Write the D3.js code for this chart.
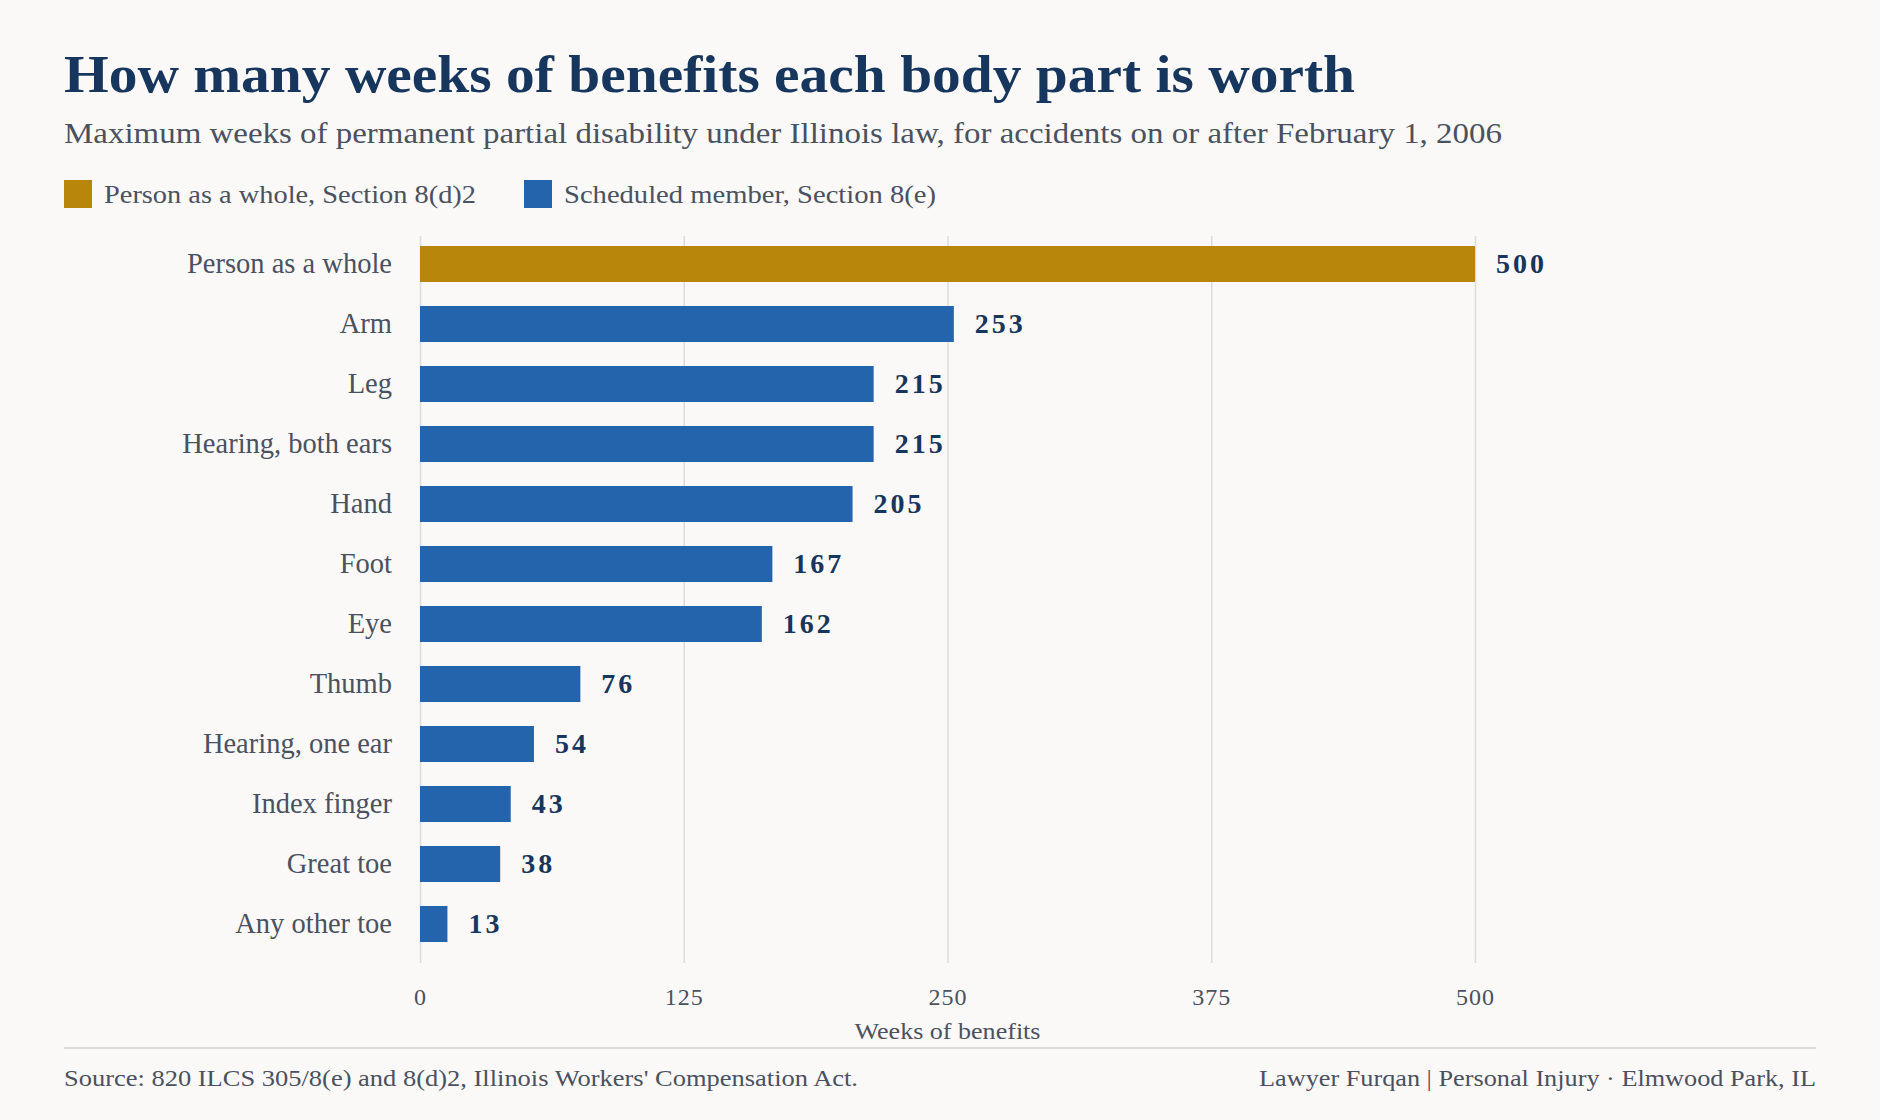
<!DOCTYPE html>
<html>
<head>
<meta charset="utf-8">
<script src="https://cdn.jsdelivr.net/npm/d3@7"></script>
<style>
  html, body { margin: 0; padding: 0; background: #faf9f7; }
  svg { display: block; font-family: "Liberation Serif", Georgia, serif; }
</style>
</head>
<body>
<div class="chart_container"></div>
<script>
// data
const categories = ["Person as a whole", "Arm", "Leg", "Hearing, both ears", "Hand", "Foot", "Eye", "Thumb", "Hearing, one ear", "Index finger", "Great toe", "Any other toe"];
const weeks = [500, 253, 215, 215, 205, 167, 162, 76, 54, 43, 38, 13];
const groups = ["whole", "member", "member", "member", "member", "member", "member", "member", "member", "member", "member", "member"];
const legendLabels = ["Person as a whole, Section 8(d)2", "Scheduled member, Section 8(e)"];
const xTicks = [0, 125, 250, 375, 500];

const width = 1880;
const height = 1120;
const colors = { whole: "#b8860b", member: "#2364ad" };
const navy = "#17365d";
const grey = "#4a5160";
const serif = "Liberation Serif, Georgia, serif";

// stretch a text to the width it has in the original (Georgia is wider than the installed serif)
const fit = (sel, w) => sel.attr("textLength", w).attr("lengthAdjust", "spacingAndGlyphs");

const svg = d3.select(".chart_container").append("svg")
  .attr("width", width)
  .attr("height", height);

svg.append("rect").attr("width", width).attr("height", height).attr("fill", "#faf9f7");

//^ TITLE + SUBTITLE //
svg.append("text").attr("x", 64).attr("y", 92)
  .attr("font-size", 52).attr("font-weight", "bold").attr("fill", navy)
  .text("How many weeks of benefits each body part is worth")
  .call(fit, 1291);
svg.append("text").attr("x", 64).attr("y", 143)
  .attr("font-size", 29).attr("fill", grey)
  .text("Maximum weeks of permanent partial disability under Illinois law, for accidents on or after February 1, 2006")
  .call(fit, 1438);

//^ LEGEND //
const legendX = [64, 524];
legendLabels.forEach((lab, i) => {
  const g = svg.append("g").attr("transform", `translate(${legendX[i]},180)`);
  g.append("rect").attr("width", 28).attr("height", 28).attr("fill", i === 0 ? colors.whole : colors.member);
  g.append("text").attr("x", 40).attr("y", 23).attr("font-size", 26).attr("fill", grey).text(lab).call(fit, 372);
});

//^ SCALES //
const x = d3.scaleLinear().domain([0, 500]).range([420, 1475]);
const y = d3.scaleBand().domain(categories).range([234, 954]).paddingInner(0.4).paddingOuter(0.2);

//^ GRID + X AXIS //
const xAxis = d3.axisBottom(x).tickValues(xTicks).tickSize(-(963 - 236)).tickPadding(25).tickFormat(d3.format("d"));
const gx = svg.append("g").attr("transform", "translate(0,963)").call(xAxis);
gx.select(".domain").remove();
gx.selectAll(".tick line").attr("stroke", "#dcdcdc").attr("stroke-width", 1.5);
gx.selectAll(".tick text").attr("font-size", 24).attr("letter-spacing", 1).attr("fill", grey).attr("font-family", serif);

//^ CATEGORY AXIS //
const yAxis = d3.axisLeft(y).tickSize(0).tickPadding(28);
const gy = svg.append("g").attr("transform", "translate(420,0)").call(yAxis);
gy.select(".domain").remove();
gy.selectAll(".tick text").attr("font-size", 28.5).attr("fill", grey).attr("font-family", serif);

//^ BARS //
svg.selectAll("rect.bar")
  .data(categories)
  .enter()
  .append("rect")
  .attr("class", "bar")
  .attr("x", x(0))
  .attr("y", (d) => y(d))
  .attr("width", (d, i) => x(weeks[i]) - x(0))
  .attr("height", y.bandwidth())
  .attr("fill", (d, i) => colors[groups[i]]);

//^ VALUE LABELS //
svg.selectAll("text.value")
  .data(categories)
  .enter()
  .append("text")
  .attr("class", "value")
  .attr("x", (d, i) => x(weeks[i]) + 21)
  .attr("y", (d) => y(d) + y.bandwidth() / 2)
  .attr("dy", "0.33em")
  .attr("font-size", 28)
  .attr("letter-spacing", 3)
  .attr("font-weight", "bold")
  .attr("fill", navy)
  .text((d, i) => weeks[i]);

//^ AXIS TITLE //
svg.append("text").attr("x", x(250)).attr("y", 1039).attr("text-anchor", "middle")
  .attr("font-size", 24).attr("fill", grey).text("Weeks of benefits").call(fit, 186);

//^ FOOTER //
svg.append("line").attr("x1", 64).attr("x2", 1816).attr("y1", 1048).attr("y2", 1048)
  .attr("stroke", "#dcdcdc").attr("stroke-width", 2);
svg.append("text").attr("x", 64).attr("y", 1086).attr("font-size", 24).attr("fill", grey)
  .text("Source: 820 ILCS 305/8(e) and 8(d)2, Illinois Workers' Compensation Act.").call(fit, 794);
svg.append("text").attr("x", 1816).attr("y", 1086).attr("text-anchor", "end").attr("font-size", 24).attr("fill", grey)
  .text("Lawyer Furqan | Personal Injury \u00b7 Elmwood Park, IL").call(fit, 557);
</script>
</body>
</html>
